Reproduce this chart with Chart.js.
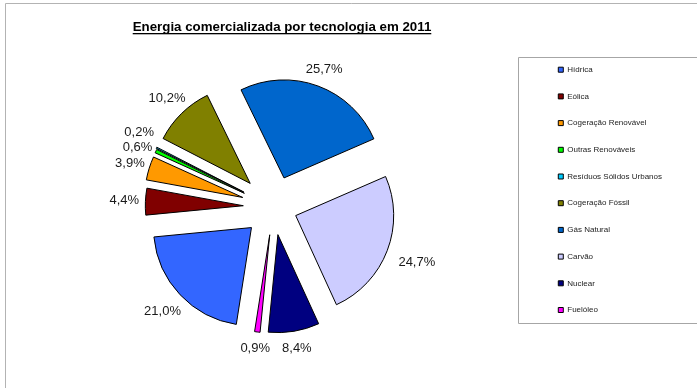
<!DOCTYPE html>
<html>
<head>
<meta charset="utf-8">
<script src="https://cdn.jsdelivr.net/npm/chart.js@4.4.1/dist/chart.umd.min.js"></script>
<style>
  html, body { margin: 0; padding: 0; background: #fff; }
</style>
</head>
<body>
<canvas id="pizza" width="697" height="388"></canvas>
<script>
// Dados
const tecnologias = ['Hídrica', 'Eólica', 'Cogeração Renovável', 'Outras Renováveis', 'Resíduos Sólidos Urbanos',
    'Cogeração Fóssil', 'Gás Natural', 'Carvão', 'Nuclear', 'Fuelóleo'];
const percentagens = [21.0, 4.4, 3.9, 0.6, 0.2, 10.2, 25.7, 24.7, 8.4, 0.9];

// Estilo das fatias
const cores = ['#3366ff', '#800000', '#ff9900', '#00ff00', '#00ccff', '#808000', '#0066cc', '#ccccff', '#000080', '#ff00ff'];
const destaque = [30, 30, 32, 32, 33, 33, 31, 24, 28, 28]; // afastamento de cada fatia (px)

Chart.defaults.font.family = '"Liberation Sans", Arial, sans-serif';

// Moldura exterior e caixa da legenda
const moldura = {
    id: 'moldura',
    beforeDraw(chart) {
        const ctx = chart.ctx;
        ctx.save();
        ctx.lineWidth = 1;
        ctx.strokeStyle = '#b3b3b3';
        ctx.beginPath();
        ctx.moveTo(5.5, 388);
        ctx.lineTo(5.5, 3.5);
        ctx.lineTo(697, 3.5);
        ctx.stroke();
        ctx.strokeStyle = '#a6a6a6';
        ctx.beginPath();
        ctx.moveTo(697, 57.5);
        ctx.lineTo(518.5, 57.5);
        ctx.lineTo(518.5, 323.5);
        ctx.lineTo(697, 323.5);
        ctx.stroke();
        ctx.restore();
    }
};

// Fatias destacadas + rótulos de percentagem
const explosao = {
    id: 'explosao',
    beforeDatasetDraw(chart, args) {
        const ctx = chart.ctx;
        args.meta.data.forEach((arco, i) => {
            const meio = (arco.startAngle + arco.endAngle) / 2;
            ctx.save();
            ctx.translate(Math.cos(meio) * destaque[i], Math.sin(meio) * destaque[i]);
            arco.draw(ctx);
            ctx.restore();
        });
        return false;
    },
    afterDatasetsDraw(chart) {
        const ctx = chart.ctx;
        const meta = chart.getDatasetMeta(0);
        ctx.save();
        ctx.font = '13px "Liberation Sans", Arial, sans-serif';
        const rotulos = meta.data.map((arco, i) => {
            const p = arco.getProps(['x', 'y', 'startAngle', 'endAngle', 'outerRadius'], true);
            const meio = (p.startAngle + p.endAngle) / 2;
            const texto = percentagens[i].toFixed(1).replace('.', ',') + '%';
            const meiaLarg = ctx.measureText(texto).width / 2;
            const ext = meiaLarg * Math.abs(Math.cos(meio)) + 7 * Math.abs(Math.sin(meio));
            const d = p.outerRadius + 36 + ext;
            return { texto, x: p.x + Math.cos(meio) * d, y: p.y + Math.sin(meio) * d, esquerda: Math.cos(meio) < 0 };
        });

        // afastar rótulos sobrepostos do lado esquerdo
        const esq = rotulos.filter(r => r.esquerda).sort((a, b) => a.y - b.y);
        for (let k = 0; k < 30; k++) {
            for (let j = 1; j < esq.length; j++) {
                const falta = 15.5 - (esq[j].y - esq[j - 1].y);
                if (falta > 0) {
                    esq[j - 1].y -= falta / 2;
                    esq[j].y += falta / 2;
                }
            }
        }

        ctx.fillStyle = '#1a1a1a';
        ctx.textAlign = 'center';
        ctx.textBaseline = 'middle';
        rotulos.forEach(r => ctx.fillText(r.texto, r.x, r.y));
        ctx.restore();
    }
};

// Título sublinhado
const titulo = {
    id: 'titulo',
    afterDraw(chart) {
        const ctx = chart.ctx;
        const txt = 'Energia comercializada por tecnologia em 2011';
        ctx.save();
        ctx.font = 'bold 13.3px "Liberation Sans", Arial, sans-serif';
        ctx.fillStyle = '#000';
        ctx.textAlign = 'center';
        ctx.textBaseline = 'middle';
        ctx.fillText(txt, 282, 27);
        const w = ctx.measureText(txt).width;
        ctx.fillRect(282 - w / 2, 33, w, 1.3);
        ctx.restore();
    }
};

new Chart(document.getElementById('pizza'), {
    type: 'pie',
    data: {
        labels: tecnologias,
        datasets: [{
            data: percentagens,
            backgroundColor: cores,
            borderColor: '#000',
            borderWidth: 1
        }]
    },
    options: {
        responsive: false,
        animation: false,
        rotation: -171.1,
        radius: 98,
        layout: { padding: { left: 7, right: 25, top: 47, bottom: 21 } },
        plugins: {
            legend: {
                position: 'right',
                align: 'start',
                labels: {
                    boxWidth: 5,
                    boxHeight: 5,
                    padding: 18.7,
                    color: '#222',
                    font: { size: 8 }
                }
            },
            tooltip: { enabled: false }
        }
    },
    plugins: [moldura, explosao, titulo]
});
</script>
</body>
</html>
